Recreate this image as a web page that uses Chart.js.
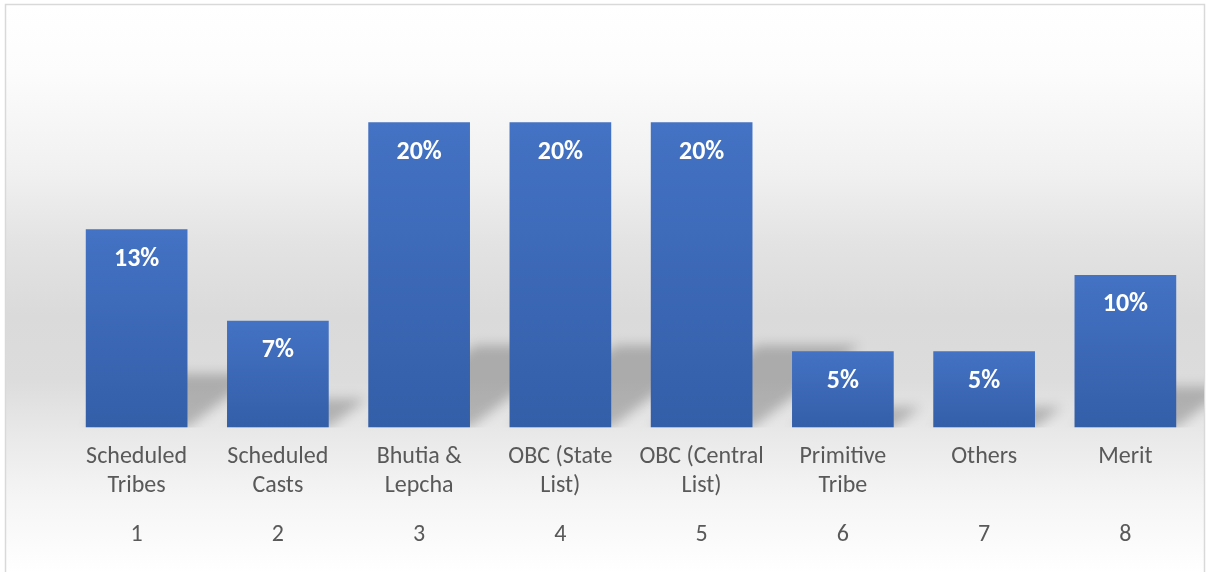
<!DOCTYPE html>
<html lang="en">
	<head>
		<meta charset="UTF-8" />
		<title>Reservation share</title>
		<script src="https://cdn.jsdelivr.net/npm/chart.js"></script>
		<style>
			html,
			body {
				margin: 0;
				padding: 0;
				background: #fff;
			}
			#wrap {
				width: 1214px;
				height: 572px;
			}
		</style>
	</head>
	<body>
		<div id="wrap">
			<canvas id="myChart"></canvas>
		</div>

		<script>
			var categories = [
				["Scheduled", "Tribes"],
				["Scheduled", "Casts"],
				["Bhutia &", "Lepcha"],
				["OBC (State", "List)"],
				["OBC (Central", "List)"],
				["Primitive", "Tribe"],
				["Others"],
				["Merit"],
			];
			var serialNos = ["1", "2", "3", "4", "5", "6", "7", "8"];
			var shares = [13, 7, 20, 20, 20, 5, 5, 10];

			var FONT = "Carlito, Lato, 'Liberation Sans', sans-serif";

			// panel background + thin frame
			var panelBg = {
				id: "panelBg",
				beforeDraw: function (chart) {
					var c = chart.ctx;
					var w = chart.width,
						h = chart.height;
					var g = c.createLinearGradient(0, 4, 0, h);
					g.addColorStop(0, "#ffffff");
					g.addColorStop(0.12, "#fcfcfc");
					g.addColorStop(0.3, "#f0f0f0");
					g.addColorStop(0.42, "#e3e3e3");
					g.addColorStop(0.55, "#dadada");
					g.addColorStop(0.66, "#dcdcdc");
					g.addColorStop(0.76, "#e9e9e9");
					g.addColorStop(0.87, "#f5f5f5");
					g.addColorStop(1, "#ffffff");
					c.save();
					c.fillStyle = "#ffffff";
					c.fillRect(0, 0, w, h);
					c.fillStyle = g;
					c.fillRect(5, 4, 1199, h);
					c.strokeStyle = "#d9d9d9";
					c.lineWidth = 1.5;
					c.strokeRect(5.5, 4.5, 1199, h + 10);
					c.restore();
				},
			};

			// soft slanted shadow falling to the right of each bar
			var barShadows = {
				id: "barShadows",
				beforeDatasetsDraw: function (chart) {
					var c = chart.ctx;
					var area = chart.chartArea;
					var meta = chart.getDatasetMeta(0);
					c.save();
					c.beginPath();
					c.rect(5, 0, 1199, area.bottom);
					c.clip();
					c.filter = "blur(6px)";
					c.fillStyle = "rgba(0,0,0,0.22)";
					meta.data.forEach(function (bar) {
						var left = bar.x - bar.width / 2;
						var right = bar.x + bar.width / 2;
						var hgt = (bar.base - bar.y) * 0.27;
						var dx = hgt * 1.3;
						c.beginPath();
						c.moveTo(left, bar.base);
						c.lineTo(right, bar.base);
						c.lineTo(right + dx, bar.base - hgt);
						c.lineTo(left + dx, bar.base - hgt);
						c.closePath();
						c.fill();
					});
					c.restore();
				},
			};

			// value labels inside the top of each bar
			var valueLabels = {
				id: "valueLabels",
				afterDatasetsDraw: function (chart) {
					var c = chart.ctx;
					var meta = chart.getDatasetMeta(0);
					c.save();
					c.fillStyle = "#ffffff";
					c.font = "bold 26px " + FONT;
					c.textAlign = "center";
					c.textBaseline = "middle";
					meta.data.forEach(function (bar, i) {
						c.fillText(shares[i] + "%", bar.x, bar.y + 30);
					});
					c.restore();
				},
			};

			var tickFont = { family: FONT, size: 24 };

			var ctx = document.getElementById("myChart").getContext("2d");
			var myChart = new Chart(ctx, {
				type: "bar",
				plugins: [panelBg, barShadows, valueLabels],
				data: {
					labels: categories,
					datasets: [
						{
							data: shares,
							categoryPercentage: 1,
							barPercentage: 0.72,
							backgroundColor: function (context) {
								var chart = context.chart;
								var y = chart.scales.y;
								if (!y || !chart.chartArea) return "#4472c4";
								var top = y.getPixelForValue(shares[context.dataIndex]);
								var bottom = y.getPixelForValue(0);
								var g = chart.ctx.createLinearGradient(0, top, 0, bottom);
								g.addColorStop(0, "#4472c4");
								g.addColorStop(1, "#335ea8");
								return g;
							},
						},
					],
				},
				options: {
					responsive: true,
					maintainAspectRatio: false,
					animation: false,
					layout: {
						padding: { left: 66, right: 18, top: 46, bottom: 18 },
					},
					scales: {
						x: {
							position: "bottom",
							weight: 1,
							grid: { display: false, drawTicks: false },
							border: { display: false },
							ticks: {
								color: "#595959",
								font: tickFont,
								padding: 15,
								maxRotation: 0,
								autoSkip: false,
							},
						},
						x2: {
							type: "category",
							position: "bottom",
							weight: 2,
							labels: serialNos,
							grid: { display: false, drawTicks: false },
							border: { display: false },
							ticks: {
								color: "#595959",
								font: tickFont,
								padding: 5,
								maxRotation: 0,
								autoSkip: false,
							},
						},
						y: {
							display: false,
							min: 0,
							max: 25,
						},
					},
					plugins: {
						legend: { display: false },
						tooltip: { enabled: false },
					},
				},
			});
		</script>
	</body>
</html>
